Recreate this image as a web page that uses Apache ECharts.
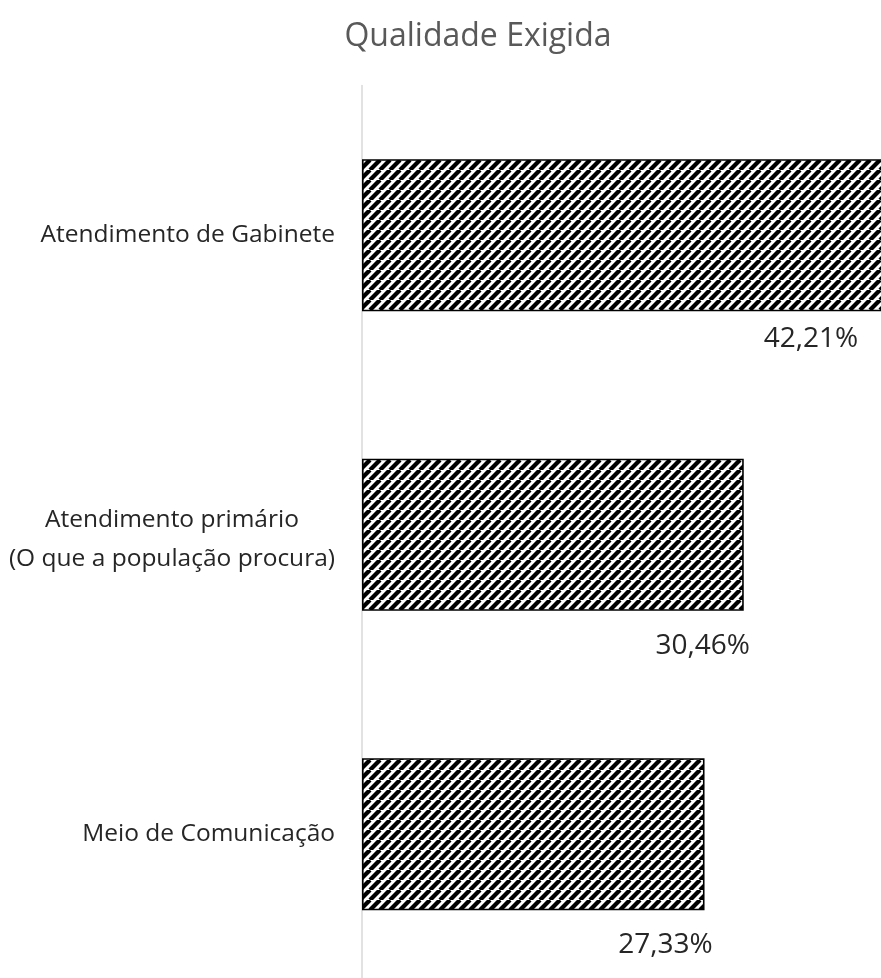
<!DOCTYPE html>
<html>
<head>
<meta charset="utf-8">
<script src="https://cdn.jsdelivr.net/npm/echarts@6/dist/echarts.min.js"></script>
<style>
  html, body { margin: 0; padding: 0; background: #fff; }
  #chart { width: 881px; height: 978px; }
</style>
</head>
<body>
<div id="chart"></div>
<script>
// Categories from top to bottom and their shares (%)
const categories = [
  'Atendimento de Gabinete',
  'Atendimento primário\n(O que a população procura)',
  'Meio de Comunicação'
];
const shares = [42.21, 30.46, 27.33];
const titleText = 'Qualidade Exigida';

const FONT = '"Open Sans", sans-serif';
const CAT_SIZE = 24.5;
const VAL_SIZE = 28;
const CAT_LINE = 39;

// Diagonal hatch tile (upward stripes)
function hatchTile() {
  const p = 10;
  const c = document.createElement('canvas');
  c.width = p; c.height = p;
  const g = c.getContext('2d');
  g.fillStyle = '#fff';
  g.fillRect(0, 0, p, p);
  g.strokeStyle = '#000';
  g.lineWidth = 4.3;
  for (let k = -1; k <= 1; k++) {
    g.beginPath();
    g.moveTo(k * p, p);
    g.lineTo(k * p + p, 0);
    g.stroke();
  }
  return c;
}

// Width of a text line, for centring the lines of multi-line labels
const measureCtx = document.createElement('canvas').getContext('2d');
function textWidth(s, size) {
  measureCtx.font = size + 'px ' + FONT;
  return measureCtx.measureText(s).width;
}

function categoryLabel(value) {
  const lines = value.split('\n');
  if (lines.length === 1) return value;
  return lines.map(l => '{c|' + l + '}').join('\n');
}
const multiWidth = Math.max(...categories.filter(c => c.includes('\n'))
  .flatMap(c => c.split('\n')).map(l => textWidth(l, CAT_SIZE)));

// Two-line category names sit a little lower than the band centre
const categoryItems = categories.map(c => c.includes('\n')
  ? { value: c, textStyle: { padding: [10, 0, 0, 0] } }
  : c);

// Per-bar value label offsets from the bar's bottom-right corner
const labelOffsets = [[-80, 28], [-41, 35], [-39, 35]];

const chart = echarts.init(document.getElementById('chart'), null, { renderer: 'canvas' });
chart.setOption({
  animation: false,
  backgroundColor: '#fff',
  title: {
    text: titleText,
    left: 473,
    top: 16,
    textAlign: 'center',
    textStyle: { fontFamily: FONT, fontSize: 32, fontWeight: 'normal', color: '#595959' }
  },
  grid: {
    left: 362, top: 85.5, width: 564, height: 898.5,
    containLabel: false,
    outerBoundsMode: 'none'
  },
  xAxis: {
    type: 'value', min: 0, max: 45,
    show: false
  },
  yAxis: {
    type: 'category',
    inverse: true,
    data: categoryItems,
    axisLine: { show: true, lineStyle: { color: '#d9d9d9', width: 1.5 } },
    axisTick: { show: false },
    splitLine: { show: false },
    axisLabel: {
      margin: 27,
      fontFamily: FONT,
      fontSize: CAT_SIZE,
      color: '#262626',
      lineHeight: CAT_LINE,
      formatter: categoryLabel,
      rich: {
        c: { width: multiWidth, align: 'center', fontFamily: FONT, fontSize: CAT_SIZE, color: '#262626', lineHeight: CAT_LINE }
      }
    }
  },
  series: [{
    type: 'bar',
    barWidth: 152,
    clip: true,
    data: shares.map((v, i) => ({
      value: v,
      label: { offset: labelOffsets[i] }
    })),
    itemStyle: {
      color: { image: hatchTile(), repeat: 'repeat' },
      borderColor: '#000',
      borderWidth: 1.6
    },
    label: {
      show: true,
      position: ['100%', '100%'],
      align: 'center',
      verticalAlign: 'middle',
      fontFamily: FONT,
      fontSize: VAL_SIZE,
      color: '#262626',
      formatter: p => p.value.toFixed(2).replace('.', ',') + '%'
    }
  }]
});
</script>
</body>
</html>
